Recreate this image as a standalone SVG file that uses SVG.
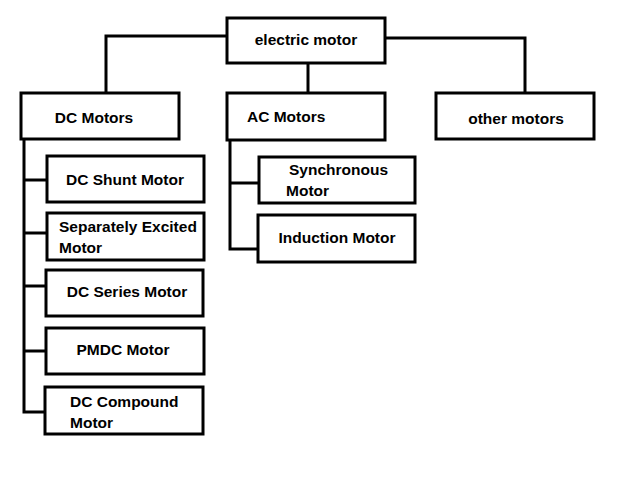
<svg xmlns="http://www.w3.org/2000/svg" width="624" height="483" viewBox="0 0 624 483">
<style>
.box{fill:#fff;stroke:#000;stroke-width:3}
.ln{fill:none;stroke:#000;stroke-width:3}
text{font-family:"Liberation Sans",Arial,sans-serif;font-weight:bold;font-size:15.5px;fill:#000}
.c{text-anchor:middle}
</style>
<rect width="624" height="483" fill="#fff"/>
<g id="connectors">
<polyline class="ln" points="227,36 106,36 106,93"/>
<line class="ln" x1="308" y1="63" x2="308" y2="93"/>
<polyline class="ln" points="385,38 525,38 525,93"/>
<polyline class="ln" points="24,139 24,412 45,412"/>
<line class="ln" x1="24" y1="180" x2="47" y2="180"/>
<line class="ln" x1="24" y1="233" x2="47" y2="233"/>
<line class="ln" x1="24" y1="286" x2="46" y2="286"/>
<line class="ln" x1="24" y1="351" x2="46" y2="351"/>
<polyline class="ln" points="230,140 230,249 258,249"/>
<line class="ln" x1="230" y1="183" x2="259" y2="183"/>
</g>
<g id="electric-motor"><rect class="box" x="227" y="18" width="158" height="45"/><text class="c" x="306" y="45">electric motor</text></g>
<g id="dc-motors"><rect class="box" x="21" y="93" width="158" height="46"/><text class="c" x="94" y="123">DC Motors</text></g>
<g id="ac-motors"><rect class="box" x="227" y="93" width="158" height="47"/><text x="247" y="122">AC Motors</text></g>
<g id="other-motors"><rect class="box" x="436" y="93" width="158" height="46"/><text class="c" x="516" y="124">other motors</text></g>
<g id="dc-shunt"><rect class="box" x="47" y="156" width="157" height="46"/><text class="c" x="125" y="185">DC Shunt Motor</text></g>
<g id="separately-excited"><rect class="box" x="47" y="213" width="157" height="47"/><text x="59" y="232">Separately Excited</text><text x="59" y="253">Motor</text></g>
<g id="dc-series"><rect class="box" x="46" y="270" width="157" height="46"/><text class="c" x="127" y="297">DC Series Motor</text></g>
<g id="pmdc"><rect class="box" x="46" y="328" width="158" height="46"/><text class="c" x="123" y="355">PMDC Motor</text></g>
<g id="dc-compound"><rect class="box" x="45" y="387" width="158" height="47"/><text x="70" y="407">DC Compound</text><text x="70" y="428">Motor</text></g>
<g id="synchronous"><rect class="box" x="259" y="157" width="156" height="46"/><text x="289" y="175">Synchronous</text><text x="286" y="196">Motor</text></g>
<g id="induction"><rect class="box" x="258" y="215" width="157" height="47"/><text class="c" x="337" y="243">Induction Motor</text></g>
</svg>
